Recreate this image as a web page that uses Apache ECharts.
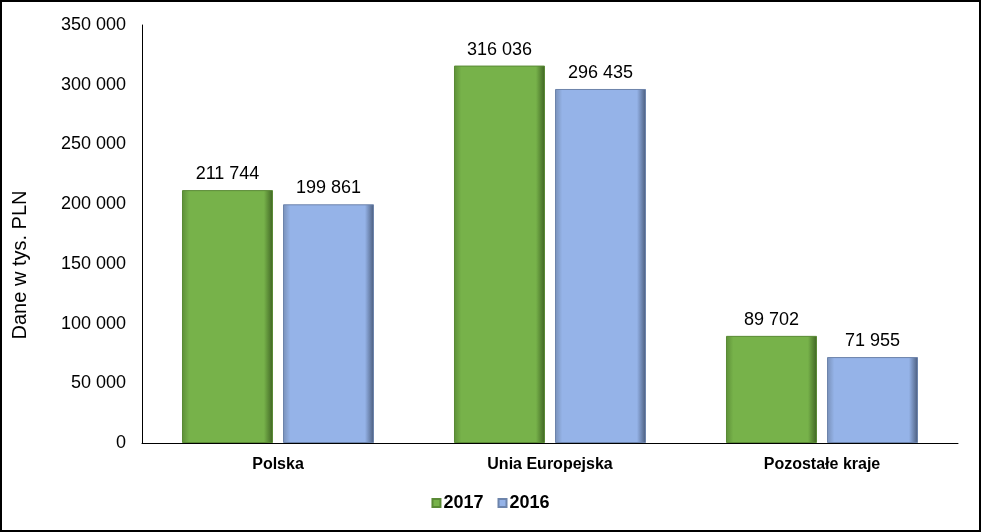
<html lang="pl">
<head>
    <meta charset="UTF-8">
    <title>Dane w tys. PLN</title>
    <script src="https://cdn.jsdelivr.net/npm/echarts@6/dist/echarts.min.js"></script>
    <style>
        html, body { margin: 0; padding: 0; background: #fff; }
        #main { width: 981px; height: 532px; box-sizing: border-box; border: 2px solid #000; }
    </style>
</head>
<body>
    <div id="main"></div>
    <script type="text/javascript">
        // dane
        var categories = ['Polska', 'Unia Europejska', 'Pozostałe kraje'];
        var values2017 = [211744, 316036, 89702];
        var values2016 = [199861, 296435, 71955];
        var yTicks = [0, 50000, 100000, 150000, 200000, 250000, 300000, 350000];

        function fmt(v) {
            return String(v).replace(/\B(?=(\d{3})+(?!\d))/g, ' ');
        }

        // gradient poziomy imitujacy wypukle krawedzie slupka
        function bevel(left, mid, right) {
            return new echarts.graphic.LinearGradient(0, 0, 1, 0, [
                { offset: 0, color: left },
                { offset: 0.08, color: mid },
                { offset: 0.9, color: mid },
                { offset: 1, color: right }
            ]);
        }

        var myChart = echarts.init(document.getElementById('main'));

        var labelStyle = {
            show: true,
            position: 'top',
            distance: 7,
            color: '#000',
            fontFamily: 'Liberation Sans',
            fontSize: 18,
            formatter: function (p) { return fmt(p.value); }
        };

        var option = {
            animation: false,
            textStyle: { fontFamily: 'Liberation Sans' },
            grid: { left: 140, right: 21, top: 23, bottom: 87 },
            graphic: [{
                type: 'text',
                x: 18,
                y: 263,
                rotation: Math.PI / 2,
                style: {
                    text: 'Dane w tys. PLN',
                    fill: '#000',
                    font: '20px "Liberation Sans"',
                    align: 'center',
                    verticalAlign: 'middle'
                }
            }],
            legend: {
                bottom: 13,
                left: 'center',
                itemWidth: 8,
                itemHeight: 8,
                itemGap: 14,
                icon: 'rect',
                textStyle: { fontSize: 18, fontWeight: 'bold', color: '#000', padding: [0, 0, 0, -2] },
                data: ['2017', '2016']
            },
            xAxis: {
                type: 'category',
                data: categories,
                axisLine: { lineStyle: { color: '#000', width: 1 } },
                axisTick: { show: false },
                axisLabel: { color: '#000', fontSize: 16, fontWeight: 'bold', margin: 14 }
            },
            yAxis: {
                type: 'value',
                min: yTicks[0],
                max: yTicks[yTicks.length - 1],
                interval: 50000,
                axisLine: { show: true, lineStyle: { color: '#000', width: 1 } },
                axisTick: { show: false },
                splitLine: { show: false },
                axisLabel: { color: '#000', fontSize: 18, margin: 16, formatter: function (v) { return fmt(v); } }
            },
            series: [{
                name: '2017',
                type: 'bar',
                data: values2017,
                barWidth: 91,
                barGap: '11%',
                itemStyle: { color: bevel('#5d8f38', '#77b24a', '#3f6424'), borderColor: '#5a8a35', borderWidth: 1 },
                label: labelStyle
            }, {
                name: '2016',
                type: 'bar',
                data: values2016,
                barWidth: 91,
                itemStyle: { color: bevel('#7890b8', '#95b3e8', '#4a5c7c'), borderColor: '#6d84ab', borderWidth: 1 },
                label: labelStyle
            }]
        };

        myChart.setOption(option);
    </script>
</body>
</html>
